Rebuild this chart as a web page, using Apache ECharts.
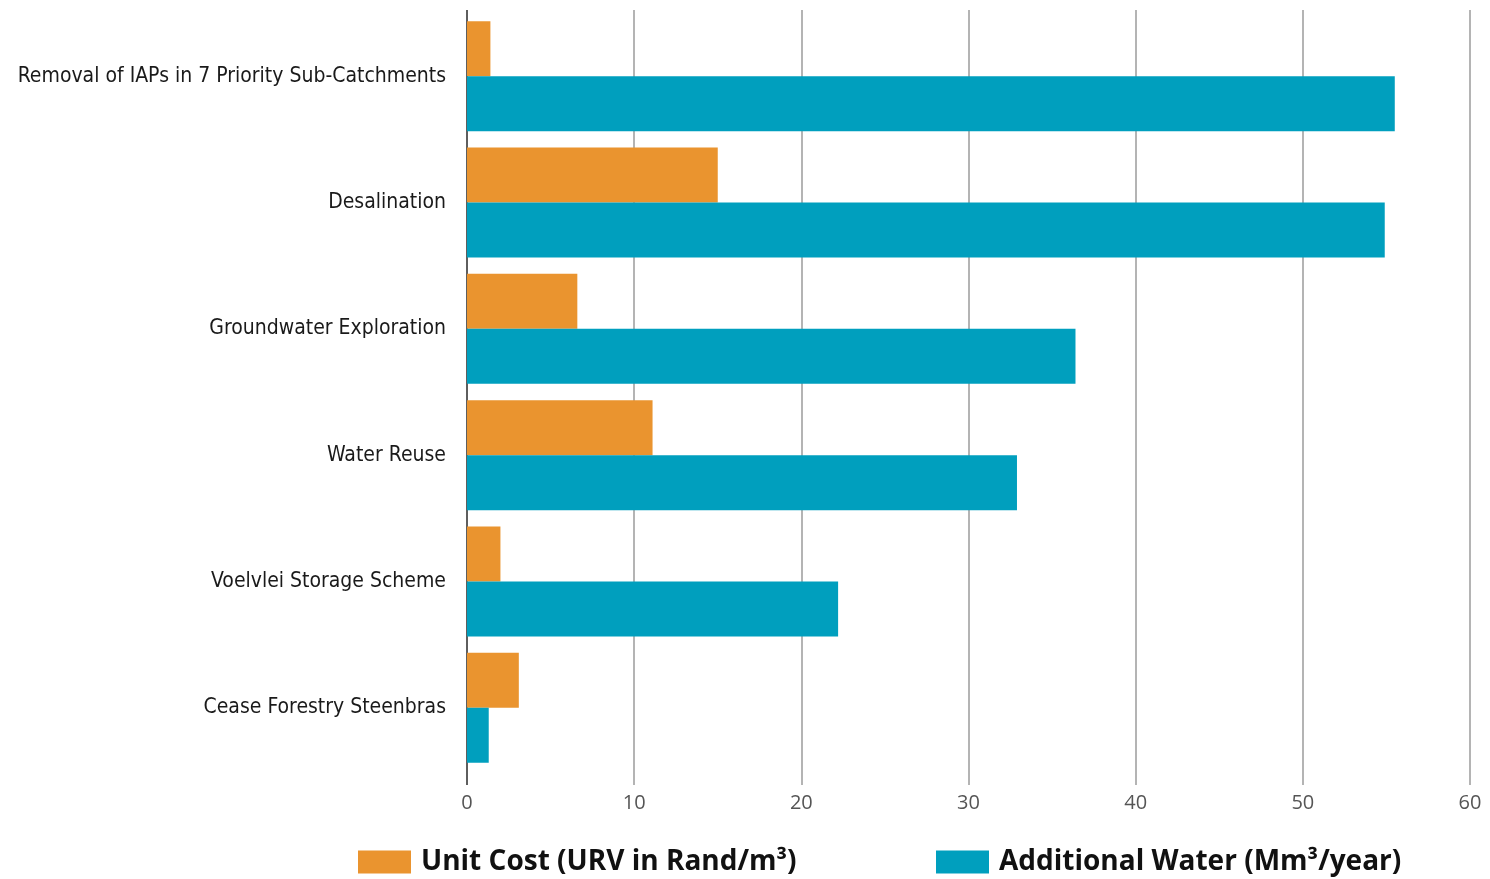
<!DOCTYPE html>
<html>
<head>
<meta charset="utf-8">
<script src="https://cdn.jsdelivr.net/npm/echarts@6/dist/echarts.min.js"></script>
<style>
  html, body { margin: 0; padding: 0; background: #fff; }
  #chart { width: 1490px; height: 879px; }
</style>
</head>
<body>
<div id="chart"></div>
<script>
// Water augmentation options: unit cost vs. additional yield
const categories = [
  'Removal of IAPs in 7 Priority Sub-Catchments',
  'Desalination',
  'Groundwater Exploration',
  'Water Reuse',
  'Voelvlei Storage Scheme',
  'Cease Forestry Steenbras'
];
const unitCost = [1.4, 15.0, 6.6, 11.1, 2.0, 3.1];
const additionalWater = [55.5, 54.9, 36.4, 32.9, 22.2, 1.3];
const xTicks = { min: 0, max: 60, interval: 10 };

const seriesNames = ['Unit Cost (URV in Rand/m³)', 'Additional Water (Mm³/year)'];
const colors = ['#EA942F', '#009FBE'];

const chart = echarts.init(document.getElementById('chart'));

const legendText = {
  fontFamily: 'Open Sans',
  fontWeight: 'bold',
  fontSize: 28,
  color: '#111',
  padding: [0, 0, 0, 5]
};

chart.setOption({
  animation: false,
  grid: [
    // grid 0 carries the value axis, its labels and the vertical rules
    { left: 467, right: 20, top: 10, bottom: 94, outerBoundsMode: 'none', containLabel: false },
    // grid 1 holds the bars
    { left: 467, right: 20, top: 13, bottom: 108, outerBoundsMode: 'none', containLabel: false }
  ],
  xAxis: [
    {
      gridIndex: 0, type: 'value',
      min: xTicks.min, max: xTicks.max, interval: xTicks.interval,
      axisLine: { show: false }, axisTick: { show: false },
      splitLine: { show: true, lineStyle: { color: ['#5e5e5e', '#b4b4b4', '#b4b4b4', '#b4b4b4', '#b4b4b4', '#b4b4b4', '#b4b4b4'], width: 2 } },
      axisLabel: { margin: 8, color: '#555', fontFamily: 'Open Sans', fontSize: 20 }
    },
    {
      gridIndex: 1, type: 'value',
      min: xTicks.min, max: xTicks.max, interval: xTicks.interval,
      show: false
    }
  ],
  yAxis: [
    { gridIndex: 0, type: 'category', data: categories, show: false },
    {
      gridIndex: 1, type: 'category', data: categories, inverse: true,
      axisLine: { show: false }, axisTick: { show: false },
      axisLabel: {
        margin: 21, color: '#1a1a1a',
        fontFamily: '"DejaVu Sans Condensed", "Liberation Sans Narrow", "Roboto Condensed", Roboto, sans-serif',
        fontSize: 21
      }
    }
  ],
  legend: [
    {
      data: [seriesNames[0]], left: 353, top: 843,
      itemWidth: 53, itemHeight: 23, itemGap: 10,
      icon: 'rect', textStyle: legendText
    },
    {
      data: [seriesNames[1]], left: 931, top: 843,
      itemWidth: 53, itemHeight: 23, itemGap: 10,
      icon: 'rect', textStyle: legendText
    }
  ],
  series: [
    {
      name: seriesNames[0], type: 'bar', xAxisIndex: 1, yAxisIndex: 1,
      data: unitCost, barWidth: 55, barGap: '0%',
      itemStyle: { color: colors[0] }
    },
    {
      name: seriesNames[1], type: 'bar', xAxisIndex: 1, yAxisIndex: 1,
      data: additionalWater, barWidth: 55, barGap: '0%',
      itemStyle: { color: colors[1] }
    }
  ]
});
</script>
</body>
</html>
